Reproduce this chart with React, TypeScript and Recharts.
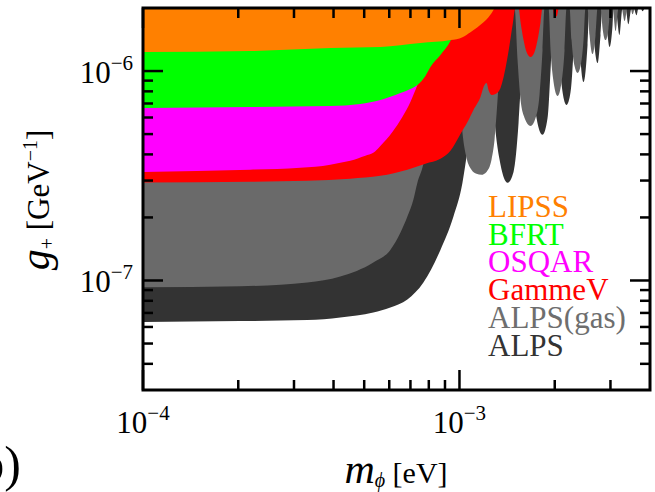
import React from 'react';
import { ComposedChart, Area, XAxis, YAxis } from 'recharts';

const W = 655;
const H = 492;
const PLOT = { left: 143, top: 8, right: 650, bottom: 390 };
const PLOT_W = PLOT.right - PLOT.left;
const PLOT_H = PLOT.bottom - PLOT.top;
const Y_AXIS_W = 60;
const X_AXIS_H = 30;
const FONT = 'Liberation Serif, Times New Roman, serif';

const M_MIN = 1e-4;
const M_MAX = 4e-3;
const G_MIN = 3e-8;
const G_MAX = 2e-6;

const X_TICKS = [1e-4, 2e-4, 3e-4, 4e-4, 5e-4, 6e-4, 7e-4, 8e-4, 9e-4, 1e-3, 2e-3, 3e-3];
const Y_TICKS = [4e-8, 5e-8, 6e-8, 7e-8, 8e-8, 9e-8, 1e-7, 2e-7, 3e-7, 4e-7, 5e-7, 6e-7, 7e-7, 8e-7, 9e-7, 1e-6];

// masses in meV, couplings in units of 1e-7 GeV^-1 (20 = top of the plot)
const ALPS_M = [0.1, 0.2027, 0.3304, 0.4201, 0.5342, 0.6047, 0.6846, 0.7692, 0.8707, 0.9572, 1.0221, 1.06, 1.0993, 1.1401, 1.1738, 1.1911,
  1.2263, 1.2534, 1.2905, 1.3482, 1.4187, 1.482, 1.537, 1.571, 1.6057,
  1.6412, 1.6896, 1.7521, 1.8302, 1.8981, 1.94, 1.9828,
  2.0119, 2.0562, 2.117, 2.1795, 2.2439, 2.2934, 2.327,
  2.3611, 2.3957, 2.4664, 2.5392, 2.5764,
  2.6141, 2.6524, 2.7308, 2.791, 2.832,
  2.8735, 2.9155, 2.9798, 3.0457, 3.0679,
  3.1129, 3.2048, 3.2756, 3.3479, 3.4217, 3.4973, 3.5484, 3.6267, 3.6798, 3.7338, 3.7885, 3.8441];
const ALPS_G = [0.633, 0.64, 0.647, 0.666, 0.704, 0.744, 0.812, 0.978, 1.4, 2.02, 2.93, 4.21, 6.52, 11.28, 17.5, 20,
  20, 11.28, 5.84, 3.57, 2.93, 3.3, 5.65, 10.11, 20,
  20, 10.11, 5.97, 4.96, 5.97, 10.11, 20,
  20, 12.59, 7.94, 6.89, 7.94, 12.59, 20,
  20, 13.3, 8.86, 13.3, 20,
  20, 14.84, 10.92, 14.84, 20,
  20, 16.56, 13.01, 16.56, 20,
  20, 14.84, 20, 20, 16.74, 20, 20, 18.48, 20, 20, 19.31, 20];

const GAS_M = [0.1, 0.2027, 0.3304, 0.4201, 0.5342, 0.6047, 0.6505, 0.6846, 0.715, 0.7363, 0.7636, 0.7978, 0.8334, 0.8707, 0.8965, 0.9097,
  0.9502, 0.9784, 1.0, 1.0221, 1.0523, 1.0913, 1.1318, 1.1738, 1.2174, 1.2626, 1.2905, 1.3191, 1.3482, 1.368,
  1.4928, 1.5259, 1.5596, 1.6057, 1.6773, 1.7394, 1.7906, 1.8302, 1.8571,
  1.9119, 1.94, 1.9828, 2.0414, 2.1016, 2.148, 2.1795,
  2.2277, 2.2603, 2.3101, 2.3611, 2.4132, 2.4664, 2.5025,
  2.5392, 2.5764, 2.6332, 2.6913, 2.7308,
  2.791, 2.832, 2.8944, 2.9582, 3.0016,
  3.0457, 3.1129, 3.1816, 3.2519, 3.3236, 3.3969, 3.4719, 3.5227, 3.5743];
const GAS_G = [0.929, 0.939, 0.978, 1.045, 1.22, 1.4, 1.69, 2.02, 2.43, 2.93, 3.45, 4.69, 7.27, 12.59, 18.48, 20,
  20, 12.59, 7.69, 5.07, 3.85, 3.38, 3.23, 3.2, 3.3, 3.77, 4.69, 7.27, 12.59, 20,
  20, 11.28, 7.27, 5.97, 5.47, 5.97, 7.69, 12.59, 20,
  20, 12.59, 8.86, 7.6, 8.86, 12.59, 20,
  20, 14.05, 10.56, 9.78, 10.56, 14.05, 20,
  20, 14.84, 12.05, 14.84, 20,
  20, 16.03, 14.05, 16.03, 20,
  20, 15.51, 20, 20, 17.3, 20, 20, 18.68, 20];

const GAMMEV_M = [0.1, 0.2182, 0.3304, 0.4518, 0.5623, 0.6846, 0.7805, 0.8707, 0.9365, 1.0073, 1.06, 1.1073, 1.1653, 1.1998, 1.2174, 1.2353,
  1.2626, 1.3, 1.3482, 1.3982, 1.4395, 1.4713, 1.5038,
  1.537, 1.5596, 1.5941, 1.6292, 1.6773, 1.7267, 1.7649, 1.8037, 1.8302,
  1.9684, 1.9973, 2.0266, 2.0562];
const GAMMEV_G = [2.94, 2.96, 2.99, 3.06, 3.16, 3.38, 3.61, 3.81, 4.16, 5.01, 5.71, 6.52, 7.52, 8.58, 8.77, 8.12,
  7.69, 7.77, 8.3, 10.33, 13.3, 16.56, 20,
  20, 17.11, 14.05, 12.32, 11.66, 12.32, 14.05, 17.11, 20,
  20, 18.28, 18.28, 20];

const OSQAR_M = [0.1, 0.2182, 0.314, 0.3907, 0.4201, 0.4518, 0.5042, 0.5342, 0.5623, 0.6137, 0.66, 0.6997, 0.7363, 0.7636, 0.7978, 0.8274, 0.8517];
const OSQAR_G = [3.3, 3.38, 3.45, 3.57, 3.65, 3.73, 3.94, 4.07, 4.39, 5.12, 6.04, 7.12, 8.58, 9.89, 12.32, 15.68, 20];

const BFRT_M = [0.1, 0.2182, 0.3907, 0.4861, 0.5623, 0.6505, 0.6997, 0.7363, 0.7805, 0.8095, 0.8707, 0.9365, 0.9713, 1.0, 1.0147];
const BFRT_G = [6.67, 6.74, 6.81, 6.96, 7.27, 7.86, 8.21, 8.58, 9.47, 10.45, 11.92, 13.9, 15.68, 17.88, 20];

const LIPSS_M = [0.1, 0.2182, 0.3907, 0.5623, 0.7525, 0.9365, 1.0221, 1.0834, 1.1401, 1.1911, 1.2353, 1.2626, 1.2905];
const LIPSS_G = [12.32, 12.45, 12.87, 13.01, 13.6, 14.05, 14.52, 15.34, 16.2, 17.11, 18.08, 18.89, 20];

const COLORS = {
  lipss: '#ff8000',
  bfrt: '#00ff00',
  osqar: '#ff00ff',
  gammev: '#ff0000',
  gas: '#6a6a6a',
  alps: '#333333',
};

const LEGEND = [
  { name: 'LIPSS', color: COLORS.lipss },
  { name: 'BFRT', color: COLORS.bfrt },
  { name: 'OSQAR', color: COLORS.osqar },
  { name: 'GammeV', color: COLORS.gammev },
  { name: 'ALPS(gas)', color: '#6e6e6e' },
  { name: 'ALPS', color: COLORS.alps },
];

// region above each exclusion curve, up to the top of the plot
const rows = (ms: number[], gs: number[]) =>
  ms.map((m, i) => ({ m: m * 1e-3, g: [gs[i] * 1e-7, G_MAX] }));

const SERIES = [
  { key: 'alps', data: rows(ALPS_M, ALPS_G), color: COLORS.alps },
  { key: 'gas', data: rows(GAS_M, GAS_G), color: COLORS.gas },
  { key: 'gammev', data: rows(GAMMEV_M, GAMMEV_G), color: COLORS.gammev },
  { key: 'osqar', data: rows(OSQAR_M, OSQAR_G), color: COLORS.osqar },
  { key: 'bfrt', data: rows(BFRT_M, BFRT_G), color: COLORS.bfrt },
  { key: 'lipss', data: rows(LIPSS_M, LIPSS_G), color: COLORS.lipss },
];

const isDecade = (v: number) => Math.abs(Math.log10(v) - Math.round(Math.log10(v))) < 1e-6;
const MINUS = '\u2212';

function XTick(props: any) {
  const { x, y, payload } = props;
  const major = isDecade(payload.value);
  const len = major ? 20 : 10;
  const exp = Math.round(Math.log10(payload.value));
  return (
    <g>
      <line x1={x} x2={x} y1={y} y2={y - len} stroke="#000" strokeWidth={2.5} />
      <line x1={x} x2={x} y1={y - PLOT_H} y2={y - PLOT_H + len} stroke="#000" strokeWidth={2.5} />
      {major && (
        <text x={x} y={y + 43} textAnchor="middle" fontFamily={FONT} fontSize={31} fill="#000">
          10<tspan dy={-13} fontSize={21}>{MINUS + Math.abs(exp)}</tspan>
        </text>
      )}
    </g>
  );
}

function YTick(props: any) {
  const { x, y, payload } = props;
  const major = isDecade(payload.value);
  const len = major ? 20 : 10;
  const exp = Math.round(Math.log10(payload.value));
  return (
    <g>
      <line x1={x} x2={x + len} y1={y} y2={y} stroke="#000" strokeWidth={2.5} />
      <line x1={x + PLOT_W} x2={x + PLOT_W - len} y1={y} y2={y} stroke="#000" strokeWidth={2.5} />
      {major && (
        <text x={x - 10} y={y + 12} textAnchor="end" fontFamily={FONT} fontSize={31} fill="#000">
          10<tspan dy={-13} fontSize={21}>{MINUS + Math.abs(exp)}</tspan>
        </text>
      )}
    </g>
  );
}

export default function App() {
  return (
    <div style={{ position: 'absolute', left: 0, top: 0, width: W, height: H, background: '#fff' }}>
      <ComposedChart
        width={W}
        height={H}
        margin={{
          top: PLOT.top,
          right: W - PLOT.right,
          left: PLOT.left - Y_AXIS_W,
          bottom: H - PLOT.bottom - X_AXIS_H,
        }}
      >
        {SERIES.map((s) => (
          <Area
            key={s.key}
            data={s.data}
            dataKey="g"
            type="monotone"
            stroke="none"
            fill={s.color}
            fillOpacity={1}
            dot={false}
            activeDot={false}
            isAnimationActive={false}
          />
        ))}
        <XAxis
          dataKey="m"
          type="number"
          scale="log"
          domain={[M_MIN, M_MAX]}
          allowDataOverflow
          ticks={X_TICKS}
          interval={0}
          height={X_AXIS_H}
          axisLine={false}
          tickLine={false}
          tickSize={0}
          tickMargin={0}
          tick={(p: any) => <XTick {...p} />}
        />
        <YAxis
          type="number"
          scale="log"
          domain={[G_MIN, G_MAX]}
          allowDataOverflow
          ticks={Y_TICKS}
          interval={0}
          width={Y_AXIS_W}
          axisLine={false}
          tickLine={false}
          tickSize={0}
          tickMargin={0}
          tick={(p: any) => <YTick {...p} />}
        />
      </ComposedChart>
      <svg
        width={W}
        height={H}
        style={{ position: 'absolute', left: 0, top: 0, pointerEvents: 'none', fontFamily: FONT }}
      >
        <rect x={PLOT.left} y={PLOT.top} width={PLOT_W} height={PLOT_H} fill="none" stroke="#000" strokeWidth={3} />
        {LEGEND.map((l, i) => (
          <text key={l.name} x={488} y={217 + i * 27.7} fontFamily={FONT} fontSize={31} fill={l.color}>
            {l.name}
          </text>
        ))}
        <text x={396} y={483} textAnchor="middle" fontFamily={FONT} fill="#000">
          <tspan fontStyle="italic" fontSize={42}>m</tspan>
          <tspan fontStyle="italic" fontSize={20} dy={4}>{'\u03d5'}</tspan>
          <tspan fontSize={30} dy={-4}> [eV]</tspan>
        </text>
        <text transform="translate(49, 200) rotate(-90)" textAnchor="middle" fontFamily={FONT} fill="#000">
          <tspan fontStyle="italic" fontSize={42}>g</tspan>
          <tspan fontSize={20} dy={5}>+</tspan>
          <tspan fontSize={31} dy={-5}> [GeV</tspan>
          <tspan fontSize={20} dy={-12}>{MINUS + '1'}</tspan>
          <tspan fontSize={31} dy={12}>]</tspan>
        </text>
        <text x={21} y={481} textAnchor="end" fontFamily={FONT} fontSize={50} fill="#000">b)</text>
      </svg>
    </div>
  );
}
